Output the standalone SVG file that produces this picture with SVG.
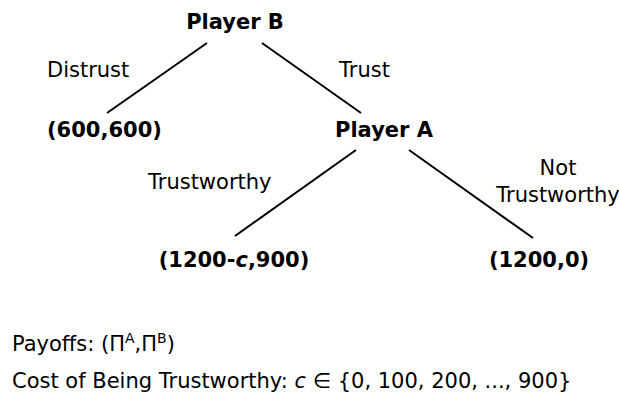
<svg xmlns="http://www.w3.org/2000/svg" width="619" height="394" viewBox="0 0 619 394">
<style>
text{font-family:"DejaVu Sans",sans-serif;font-size:21px;fill:#000}
.b{font-weight:bold}
.m{text-anchor:middle}
line{stroke:#000;stroke-width:2}
</style>
<rect width="619" height="394" fill="#fff"/>
<g id="connectors">
<line x1="207" y1="43" x2="107" y2="113"/>
<line x1="262" y1="43" x2="361" y2="113"/>
<line x1="356" y1="150" x2="235" y2="236"/>
<line x1="409" y1="150" x2="533" y2="238"/>
</g>
<g id="labels">
<text x="47" y="77">Distrust</text>
<text x="339" y="77">Trust</text>
<text x="148" y="189">Trustworthy</text>
<text x="558" y="175" class="m">Not</text>
<text x="558" y="202" class="m">Trustworthy</text>
</g>
<g id="playerB"><text x="235" y="29" class="b m">Player B</text></g>
<g id="outcome1"><text x="47" y="137" class="b">(600,600)</text></g>
<g id="playerA"><text x="384" y="137" class="b m">Player A</text></g>
<g id="outcome2"><text x="234" y="267" class="b m">(1200-<tspan font-style="italic">c</tspan>,900)</text></g>
<g id="outcome3"><text x="539" y="267" class="b m">(1200,0)</text></g>
<g id="legend">
<text x="12" y="351">Payoffs: (Π<tspan font-size="14" dy="-8">A</tspan><tspan dy="8">,Π</tspan><tspan font-size="14" dy="-8">B</tspan><tspan dy="8">)</tspan></text>
<text x="12" y="388">Cost of Being Trustworthy: <tspan font-style="italic">c</tspan> ∈ {0, 100, 200, ..., 900}</text>
</g>
</svg>
